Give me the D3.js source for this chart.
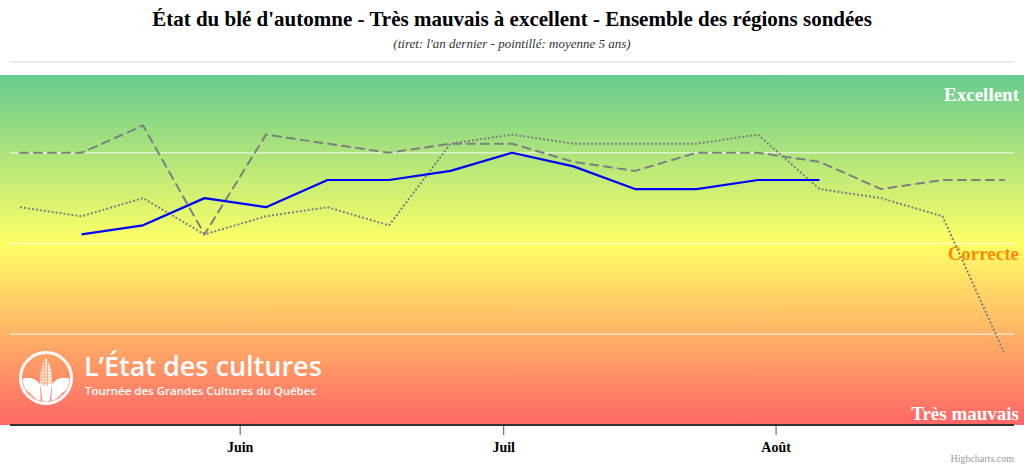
<!DOCTYPE html>
<html>
<head>
<meta charset="utf-8">
<script src="https://cdn.jsdelivr.net/npm/d3@7"></script>
<style>
  html, body { margin: 0; padding: 0; background: #fff; }
  svg { display: block; }
</style>
</head>
<body>
<div id="chart"></div>
<script>
// Données
const dates = ["2019-05-07", "2019-05-14", "2019-05-21", "2019-05-28", "2019-06-04", "2019-06-11",
  "2019-06-18", "2019-06-25", "2019-07-02", "2019-07-09", "2019-07-16", "2019-07-23",
  "2019-07-30", "2019-08-06", "2019-08-13", "2019-08-20", "2019-08-27"];
const anCourant = [null, 3.1, 3.2, 3.5, 3.4, 3.7, 3.7, 3.8, 4.0, 3.85, 3.6, 3.6, 3.7, 3.7, null, null, null];
const anDernier = [4.0, 4.0, 4.3, 3.1, 4.2, 4.1, 4.0, 4.1, 4.1, 3.9, 3.8, 4.0, 4.0, 3.9, 3.6, 3.7, 3.7];
const moyenne5 = [3.4, 3.3, 3.5, 3.1, 3.3, 3.4, 3.2, 4.1, 4.2, 4.1, 4.1, 4.1, 4.2, 3.6, 3.5, 3.3, 1.8];
const monthTicks = ["2019-06-01", "2019-07-01", "2019-08-01"];
const monthLabels = ["Juin", "Juil", "Août"];
const yGrid = [2, 3, 4, 5];
const levelLabels = [
  { text: "Excellent", value: 4.64, color: "#ffffff" },
  { text: "Correcte", value: 2.88, color: "#ff8c00" },
  { text: "Très mauvais", value: 1.12, color: "#ffffff" }
];

const w = 1024;
const h = 468;
const plotLeft = 10, plotRight = 1014, plotTop = 62, plotBottom = 425;
const serif = "'Liberation Serif', 'Times New Roman', serif";

const parse = d3.timeParse("%Y-%m-%d");
const dateObjs = dates.map(parse);

const x = d3.scaleTime()
  .domain([dateObjs[0], dateObjs[dateObjs.length - 1]])
  .range([20, 1004]);
const y = d3.scaleLinear().domain([1, 5]).range([plotBottom, plotTop]);

const svg = d3.select("#chart").append("svg")
  .attr("width", w)
  .attr("height", h);

// dégradé du fond
const defs = svg.append("defs");
const grad = defs.append("linearGradient")
  .attr("id", "bg").attr("x1", 0).attr("y1", 0).attr("x2", 0).attr("y2", 1);
grad.append("stop").attr("offset", "0%").attr("stop-color", "#66cc8f");
grad.append("stop").attr("offset", "48%").attr("stop-color", "#ffff66");
grad.append("stop").attr("offset", "100%").attr("stop-color", "#ff6666");

svg.append("rect")
  .attr("x", 0).attr("y", 75)
  .attr("width", w).attr("height", plotBottom - 75)
  .attr("fill", "url(#bg)");

// titres
svg.append("text")
  .attr("x", w / 2).attr("y", 26)
  .attr("text-anchor", "middle")
  .attr("font-family", serif).attr("font-weight", "bold").attr("font-size", 21)
  .attr("fill", "#000")
  .text("État du blé d'automne - Très mauvais à excellent - Ensemble des régions sondées");

svg.append("text")
  .attr("x", w / 2).attr("y", 48)
  .attr("text-anchor", "middle")
  .attr("font-family", serif).attr("font-style", "italic").attr("font-size", 13)
  .attr("fill", "#333")
  .text("(tiret: l'an dernier - pointillé: moyenne 5 ans)");

// grille
svg.append("g").selectAll("line")
  .data(yGrid)
  .join("line")
  .attr("x1", plotLeft).attr("x2", plotRight)
  .attr("y1", d => y(d)).attr("y2", d => y(d))
  .attr("stroke", d => d === 5 ? "#e6e6e6" : "rgba(255,255,255,0.6)")
  .attr("stroke-width", 1.5);

// logo
const logo = svg.append("g").attr("transform", "translate(46,378)");
logo.append("circle").attr("r", 25.5).attr("fill", "none").attr("stroke", "#fff").attr("stroke-width", 3);
defs.append("clipPath").attr("id", "logoClip").append("circle").attr("cx", 0).attr("cy", 0).attr("r", 23.5);
const logoIn = logo.append("g").attr("clip-path", "url(#logoClip)");
// rangs du champ
logoIn.append("path").attr("fill", "#fff")
  .attr("d", "M-26,2 Q-14,-4 -6,6 L-5,28 Q-16,12 -26,10 Z");
logoIn.append("path").attr("fill", "#fff")
  .attr("d", "M-22,16 Q-12,14 -8,30 L-20,30 Z");
logoIn.append("path").attr("fill", "#fff")
  .attr("d", "M26,2 Q14,-4 6,6 L5,28 Q16,12 26,10 Z");
logoIn.append("path").attr("fill", "#fff")
  .attr("d", "M22,16 Q12,14 8,30 L20,30 Z");
// épi
logoIn.append("path").attr("fill", "#fff")
  .attr("d", "M0,-20 Q8,-8 5,10 L0,30 L-5,10 Q-8,-8 0,-20 Z");
for (let i = -16; i < 8; i += 3) {
  logoIn.append("line").attr("x1", -7).attr("x2", 7).attr("y1", i).attr("y2", i)
    .attr("stroke", "#ffa070").attr("stroke-width", 0.9);
}
for (let i = -4; i <= 4; i += 2.7) {
  logoIn.append("line").attr("x1", i).attr("x2", i).attr("y1", -18).attr("y2", 8)
    .attr("stroke", "#ffa070").attr("stroke-width", 0.9);
}
logoIn.append("path").attr("fill", "#fff")
  .attr("d", "M-6,4 Q0,14 6,4 L3,30 L-3,30 Z");

svg.append("text")
  .attr("x", 84).attr("y", 376)
  .attr("font-family", "'Open Sans', sans-serif").attr("font-weight", 600).attr("font-size", 27)
  .attr("fill", "#fff")
  .text("L’État des cultures");
svg.append("text")
  .attr("x", 85).attr("y", 395)
  .attr("font-family", "'Open Sans', sans-serif").attr("font-weight", 600).attr("font-size", 11.5)
  .attr("fill", "#fff")
  .text("Tournée des Grandes Cultures du Québec");

// séries
function drawSeries(values, color, width, dash) {
  const line = d3.line()
    .defined(d => d[1] !== null)
    .x(d => x(d[0]))
    .y(d => y(d[1]));
  svg.append("path")
    .datum(dateObjs.map((d, i) => [d, values[i]]))
    .attr("d", line)
    .attr("fill", "none")
    .attr("stroke", color)
    .attr("stroke-width", width)
    .attr("stroke-linejoin", "round")
    .attr("stroke-linecap", dash === "8,6" ? "round" : "butt")
    .attr("stroke-dasharray", dash);
}
drawSeries(moyenne5, "#7f7f7f", 2, "2,2");
drawSeries(anDernier, "#7f7f7f", 2, "8,6");
drawSeries(anCourant, "#0000ff", 2.2, null);

// étiquettes des niveaux
svg.append("g").selectAll("text")
  .data(levelLabels)
  .join("text")
  .attr("x", 1019)
  .attr("y", d => y(d.value) + 6)
  .attr("text-anchor", "end")
  .attr("font-family", serif).attr("font-weight", "bold").attr("font-size", 19)
  .attr("fill", d => d.color)
  .text(d => d.text);

// axe des x
const xAxis = d3.axisBottom(x)
  .tickValues(monthTicks.map(parse))
  .tickFormat((d, i) => monthLabels[i])
  .tickSize(10)
  .tickSizeOuter(0);

const gx = svg.append("g")
  .attr("transform", `translate(0,${plotBottom})`)
  .call(xAxis);
gx.select(".domain").remove();
gx.append("line")
  .attr("x1", plotLeft).attr("x2", plotRight)
  .attr("stroke", "#333").attr("stroke-width", 2);
gx.selectAll(".tick line").attr("stroke", "#555").attr("stroke-width", 1);
gx.selectAll(".tick text")
  .attr("y", 17)
  .attr("font-family", serif).attr("font-weight", "bold").attr("font-size", 14)
  .attr("fill", "#000");

// crédit
svg.append("text")
  .attr("x", 1014).attr("y", 462)
  .attr("text-anchor", "end")
  .attr("font-family", serif).attr("font-size", 10)
  .attr("fill", "#999")
  .text("Highcharts.com");
</script>
</body>
</html>
